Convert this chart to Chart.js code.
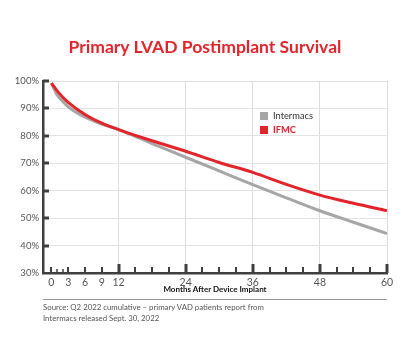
<!DOCTYPE html>
<html>
<head>
<meta charset="utf-8">
<script src="https://cdn.jsdelivr.net/npm/chart.js@4"></script>
<style>
  html,body{margin:0;padding:0;background:#fff;}
  body{width:410px;height:357px;position:relative;overflow:hidden;font-family:Lato,"Open Sans",sans-serif;}
  #wrap{position:absolute;left:0;top:0;width:410px;height:357px;}
  #title{position:absolute;left:0;width:410px;top:36px;text-align:center;color:#e2252b;font-weight:bold;font-size:17.5px;line-height:22px;}
  #legend{position:absolute;left:260px;top:109px;font-size:9.3px;line-height:14px;}
  #legend .item{display:flex;align-items:center;height:14px;}
  #legend .sw{width:8px;height:8px;margin-right:5px;}
  #rule{position:absolute;left:43px;width:344px;top:299px;height:0;border-top:1px solid #999;}
  #source{position:absolute;left:43px;top:302px;font-size:7.8px;line-height:11px;color:#555;}
</style>
</head>
<body>
<div id="wrap"><canvas id="c" width="410" height="357"></canvas></div>
<div id="title">Primary LVAD Postimplant Survival</div>
<div id="legend"></div>
<div id="rule"></div>
<div id="source">Source: Q2 2022 cumulative – primary VAD patients report from<br>Intermacs released Sept. 30, 2022</div>
<script>
// ---- data ----
const months      = [0, 1, 2, 3, 6, 9, 12, 15, 18, 21, 24, 30, 36, 42, 48, 54, 60];
const intermacs   = [99.2, 95.0, 92.6, 90.6, 86.8, 84.3, 82.3, 79.8, 77.2, 74.7, 72.2, 67.2, 62.2, 57.4, 52.7, 48.5, 44.4];
const ifmc        = [99.2, 96.5, 94.2, 92.2, 87.8, 84.6, 82.3, 80.2, 78.2, 76.3, 74.4, 70.3, 66.7, 62.3, 58.4, 55.4, 52.7];
const seriesNames = ["Intermacs", "IFMC"];
const seriesColors= ["#a6a6a6", "#e2252b"];
const xTickLabels = [0, 3, 6, 9, 12, 24, 36, 48, 60];
const xMinorTicks = [0, 1, 2, 3, 6, 9, 12, 15, 18, 21, 24, 27, 30, 33, 36, 39, 42, 45, 48, 51, 54, 57, 60];
const yTickValues = [30, 40, 50, 60, 70, 80, 90, 100];
const xAxisTitle  = "Months After Device Implant";

// legend (HTML)
const lg = document.getElementById('legend');
seriesNames.forEach((n, i) => {
  const d = document.createElement('div');
  d.className = 'item';
  d.innerHTML = '<span class="sw" style="background:' + seriesColors[i] + '"></span><span style="color:' + (i === 1 ? seriesColors[i] : '#333') + ';font-weight:' + (i === 1 ? 'bold' : 'normal') + '">' + n + '</span>';
  lg.appendChild(d);
});

const tickMarks = {
  id: 'tickMarks',
  afterDraw(chart) {
    const ctx = chart.ctx, xs = chart.scales.x, ys = chart.scales.y;
    const area = chart.chartArea;
    ctx.save();
    ctx.strokeStyle = '#3f3f3f';
    xMinorTicks.forEach(v => {
      const px = Math.round(xs.getPixelForValue(v));
      let len = 6, w = 2;
      if (v > 0 && v % 12 === 0) { len = 9; w = 3; }
      else if (v === 1 || v === 2) { len = 4; w = 1.5; }
      ctx.lineWidth = w;
      ctx.beginPath();
      ctx.moveTo(px, area.bottom);
      ctx.lineTo(px, area.bottom - len);
      ctx.stroke();
    });
    ctx.lineWidth = 3;
    yTickValues.forEach(v => {
      if (v === 30) return;
      const py = Math.round(ys.getPixelForValue(v));
      ctx.beginPath();
      ctx.moveTo(area.left, py);
      ctx.lineTo(area.left + 6, py);
      ctx.stroke();
    });
    ctx.restore();
  }
};

new Chart(document.getElementById('c'), {
  type: 'line',
  data: {
    datasets: [
      { label: seriesNames[0], data: months.map((m, i) => ({x: m, y: intermacs[i]})),
        borderColor: seriesColors[0], borderWidth: 3, pointRadius: 0, cubicInterpolationMode: 'monotone', order: 1, fill: false },
      { label: seriesNames[1], data: months.map((m, i) => ({x: m, y: ifmc[i]})),
        borderColor: seriesColors[1], borderWidth: 3, pointRadius: 0, cubicInterpolationMode: 'monotone', order: 0, fill: false }
    ]
  },
  options: {
    responsive: false,
    animation: false,
    devicePixelRatio: 1,
    layout: { padding: { top: 81, right: 23, left: 0, bottom: 57 } },
    plugins: { legend: { display: false }, tooltip: { enabled: false }, title: { display: false } },
    scales: {
      x: {
        type: 'linear', min: -1.5, max: 60,
        afterBuildTicks(scale) { scale.ticks = xTickLabels.map(v => ({ value: v })); },
        afterFit(scale) { scale.height = 27; },
        grid: {
          drawTicks: false,
          color: (ctx) => (ctx.tick && ctx.tick.value > 0 && ctx.tick.value % 12 === 0) ? '#dcdcdc' : 'rgba(0,0,0,0)',
          lineWidth: 1
        },
        border: { display: true, color: '#3f3f3f', width: 2.5 },
        ticks: { autoSkip: false, maxRotation: 0, padding: 3, color: '#555', font: { family: 'Lato', size: 10.5 } },
        title: { display: true, text: xAxisTitle, color: '#111', font: { family: 'Lato', size: 8, weight: 'bold' }, padding: { top: 0, bottom: 6 } }
      },
      y: {
        min: 30, max: 100,
        afterBuildTicks(scale) { scale.ticks = yTickValues.map(v => ({ value: v })); },
        afterFit(scale) { scale.width = 43; },
        grid: { drawTicks: false, color: '#e2e2e2', lineWidth: 1 },
        border: { display: true, color: '#3f3f3f', width: 2.5 },
        ticks: { padding: 4, color: '#555', font: { family: 'Lato', size: 9.5 }, callback: v => v + '%' }
      }
    }
  },
  plugins: [tickMarks]
});
</script>
</body>
</html>
